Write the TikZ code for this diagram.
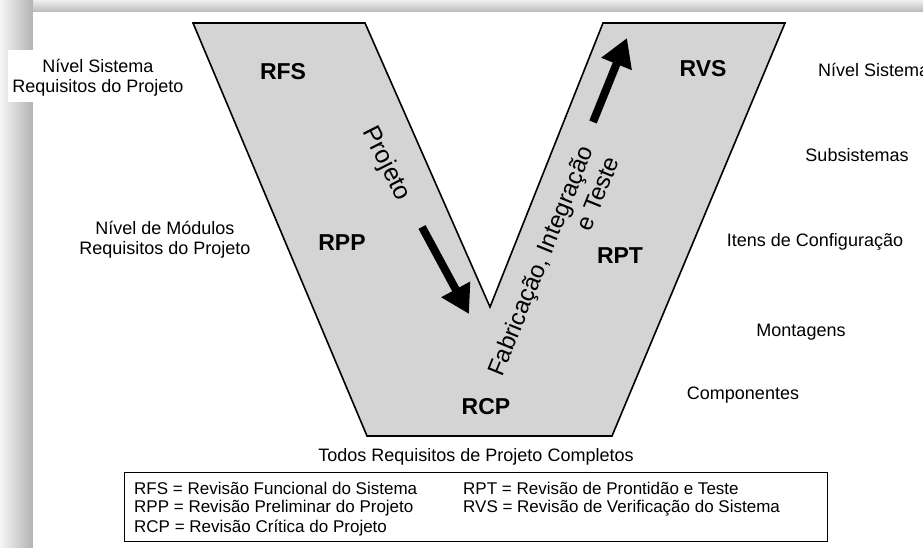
\documentclass[tikz,border=0pt]{standalone}
\usepackage{fontspec}
\setmainfont{Liberation Sans}
\usetikzlibrary{arrows.meta}
\definecolor{vfill}{HTML}{D4D4D4}
\tikzset{
  lab/.style={font=\fontsize{18}{20}\selectfont, inner sep=0pt, align=center},
  vlab/.style={font=\fontsize{23}{26}\selectfont\bfseries, inner sep=0pt},
  rot/.style={font=\fontsize{24}{28}\selectfont, inner sep=0pt},
  leg/.style={font=\fontsize{17}{20}\selectfont, inner sep=0pt, anchor=west},
  bigarrow/.style={line width=8pt, -{Triangle[length=28pt,width=31pt]}},
}
\begin{document}
\begin{tikzpicture}[x=1pt,y=-1pt]
\useasboundingbox (0,0) rectangle (923,548);
\clip (0,0) rectangle (923,548);
% frame shadow
\fill[white] (0,0) rectangle (923,548);
\shade[top color=gray!12, bottom color=gray!55] (0,0) rectangle (923,12);
\shade[left color=gray!8, right color=gray!60] (0,0) rectangle (33,548);
\fill[white] (33,12) rectangle (923,548);
\fill[white] (8,50) rectangle (33,102);
% V shape
\draw[line width=1.6pt, fill=vfill, line join=miter]
  (193,23) -- (365,23) -- (490,307) -- (603,23) -- (785,23)
  -- (612,436) -- (367,436) -- cycle;
% labels inside V
\node[vlab] (rfs) at (283,72) {RFS};
\node[vlab] (rvs) at (703,69) {RVS};
\node[vlab] (rpp) at (342,243) {RPP};
\node[vlab] (rpt) at (620,256) {RPT};
\node[vlab] (rcp) at (486,407) {RCP};
% rotated texts
\node[rot, font=\fontsize{25}{28}\selectfont, rotate=-63] (proj) at (386,164) {Projeto};
\node[rot, rotate=68, align=right] (fab) at (553,266) {Fabricação, Integração\\e Teste};
% arrows
\coordinate (d1) at (422,227);
\coordinate (d2) at (469,314);
\coordinate (u1) at (593,122);
\coordinate (u2) at (627,38);
\draw[bigarrow] (d1) -- (d2);
\draw[bigarrow] (u1) -- (u2);
% left labels
\node[lab] (ls) at (98,78) {Nível Sistema\\Requisitos do Projeto};
\node[lab] (lm) at (165,240) {Nível de Módulos\\Requisitos do Projeto};
% right labels
\node[lab, anchor=west] (rs) at (818,70) {Nível Sistema};
\node[lab] (sub) at (857,155) {Subsistemas};
\node[lab] (itc) at (815,242) {Itens de Configuração};
\node[lab] (mon) at (801,332) {Montagens};
\node[lab] (com) at (743,395) {Componentes};
% bottom
\node[lab] (todos) at (476,457) {Todos Requisitos de Projeto Completos};
\node[draw, line width=1pt, minimum width=703pt, minimum height=69pt, anchor=north west, inner sep=0pt] (legbox) at (124,472) {};
\node[leg] (l1) at (134,488) {RFS = Revisão Funcional do Sistema};
\node[leg] (l2) at (134,508) {RPP = Revisão Preliminar do Projeto};
\node[leg] (l3) at (134,528) {RCP = Revisão Crítica do Projeto};
\node[leg] (l4) at (463,488) {RPT = Revisão de Prontidão e Teste};
\node[leg] (l5) at (463,508) {RVS = Revisão de Verificação do Sistema};
\end{tikzpicture}
\end{document}
